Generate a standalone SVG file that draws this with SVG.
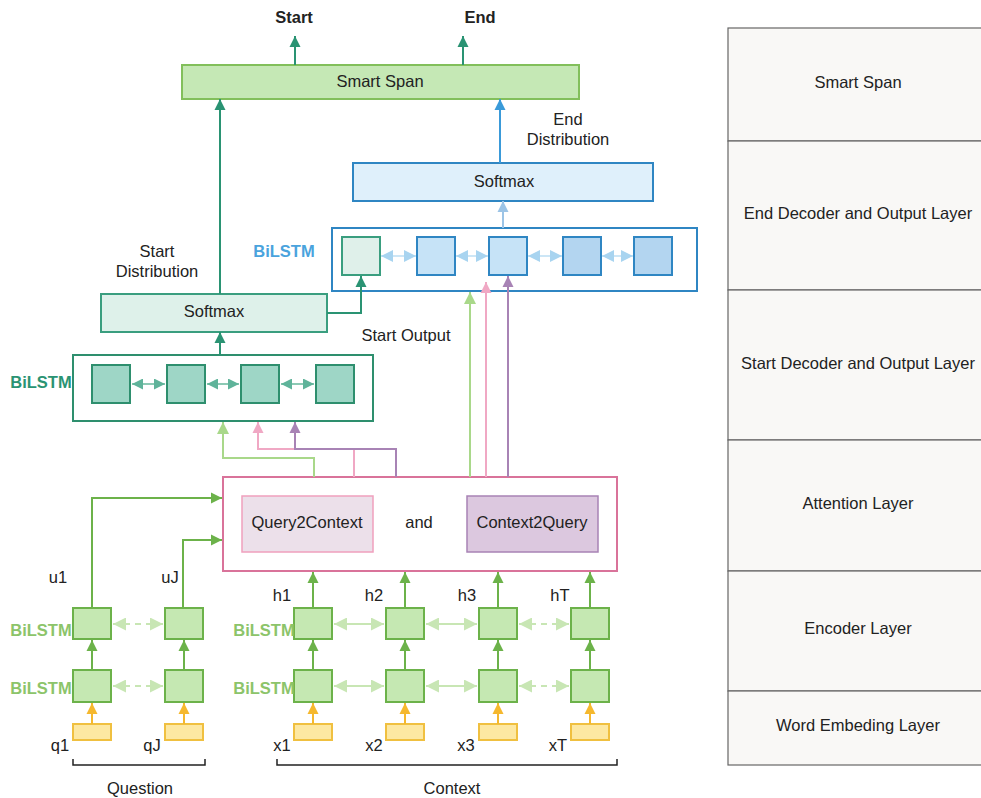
<svg xmlns="http://www.w3.org/2000/svg" width="981" height="798" viewBox="0 0 981 798">
<style>
text{font-family:"Liberation Sans",Arial,sans-serif;font-size:16.5px;fill:#222;text-anchor:middle;dominant-baseline:central}
.b{font-weight:bold}
.lbl-green{fill:#8cc46a;font-weight:bold}
.lbl-teal{fill:#2a9373;font-weight:bold}
.lbl-blue{fill:#4aa3dd;font-weight:bold}
.gsq{fill:#c5e8b2;stroke:#6cb24a;stroke-width:2}
.ysq{fill:#fde8a2;stroke:#f0c040;stroke-width:2}
.tsq{fill:#9ed6c6;stroke:#2e8f6e;stroke-width:2}
.bsq{fill:#c6e3f7;stroke:#2f86c3;stroke-width:2}
.bsq2{fill:#b3d5f0;stroke:#2f86c3;stroke-width:2}
.ln{fill:none;stroke-width:2}
.row{fill:#f9f8f6;stroke:#666;stroke-width:1.2}
</style>
<defs>
<marker id="a-teal" viewBox="0 0 10 10" refX="10" refY="5" markerWidth="11" markerHeight="12" markerUnits="userSpaceOnUse" orient="auto-start-reverse"><path d="M0,0 L10,5 L0,10 z" fill="#2a9373"/></marker>
<marker id="a-blue" viewBox="0 0 10 10" refX="10" refY="5" markerWidth="11" markerHeight="12" markerUnits="userSpaceOnUse" orient="auto-start-reverse"><path d="M0,0 L10,5 L0,10 z" fill="#3a9ad9"/></marker>
<marker id="a-sky" viewBox="0 0 10 10" refX="10" refY="5" markerWidth="11" markerHeight="12" markerUnits="userSpaceOnUse" orient="auto-start-reverse"><path d="M0,0 L10,5 L0,10 z" fill="#9cc4e6"/></marker>
<marker id="a-green" viewBox="0 0 10 10" refX="10" refY="5" markerWidth="11" markerHeight="12" markerUnits="userSpaceOnUse" orient="auto-start-reverse"><path d="M0,0 L10,5 L0,10 z" fill="#6cb24a"/></marker>
<marker id="a-yellow" viewBox="0 0 10 10" refX="10" refY="5" markerWidth="11" markerHeight="12" markerUnits="userSpaceOnUse" orient="auto-start-reverse"><path d="M0,0 L10,5 L0,10 z" fill="#f5b82e"/></marker>
<marker id="a-lgreen" viewBox="0 0 10 10" refX="10" refY="5" markerWidth="12" markerHeight="12" markerUnits="userSpaceOnUse" orient="auto-start-reverse"><path d="M0,0 L10,5 L0,10 z" fill="#a9d88a"/></marker>
<marker id="a-pink" viewBox="0 0 10 10" refX="10" refY="5" markerWidth="11" markerHeight="12" markerUnits="userSpaceOnUse" orient="auto-start-reverse"><path d="M0,0 L10,5 L0,10 z" fill="#f0a8c4"/></marker>
<marker id="a-purple" viewBox="0 0 10 10" refX="10" refY="5" markerWidth="11" markerHeight="12" markerUnits="userSpaceOnUse" orient="auto-start-reverse"><path d="M0,0 L10,5 L0,10 z" fill="#a883b5"/></marker>
<marker id="d-lg" viewBox="0 0 10 10" refX="10" refY="5" markerWidth="14" markerHeight="13" markerUnits="userSpaceOnUse" orient="auto-start-reverse"><path d="M0,0 L10,5 L0,10 z" fill="#c8e6b4"/></marker>
<marker id="d-teal" viewBox="0 0 10 10" refX="10" refY="5" markerWidth="12" markerHeight="11" markerUnits="userSpaceOnUse" orient="auto-start-reverse"><path d="M0,0 L10,5 L0,10 z" fill="#5fb39a"/></marker>
<marker id="d-sky" viewBox="0 0 10 10" refX="10" refY="5" markerWidth="14" markerHeight="12" markerUnits="userSpaceOnUse" orient="auto-start-reverse"><path d="M0,0 L10,5 L0,10 z" fill="#a8d4f0"/></marker>
</defs>

<!-- Right layer table -->
<g id="layer-table">
<rect class="row" x="728" y="28" width="262" height="113"/>
<rect class="row" x="728" y="141" width="262" height="149"/>
<rect class="row" x="728" y="290" width="262" height="150"/>
<rect class="row" x="728" y="440" width="262" height="131"/>
<rect class="row" x="728" y="571" width="262" height="120"/>
<rect class="row" x="728" y="691" width="262" height="74"/>
<text x="858" y="82">Smart Span</text>
<text x="858" y="213">End Decoder and Output Layer</text>
<text x="858" y="363">Start Decoder and Output Layer</text>
<text x="858" y="503">Attention Layer</text>
<text x="858" y="628">Encoder Layer</text>
<text x="858" y="725">Word Embeding Layer</text>
</g>

<!-- Smart Span -->
<g id="smart-span">
<rect x="182" y="65" width="397" height="34" fill="#c5e8b5" stroke="#82bf5b" stroke-width="2"/>
<text x="380" y="81">Smart Span</text>
</g>
<g id="out-labels">
<text class="b" x="294" y="17">Start</text>
<text class="b" x="480" y="17">End</text>
</g>

<!-- End decoder -->
<g id="end-softmax">
<rect x="353" y="163" width="300" height="38" fill="#dff0fb" stroke="#2f86c3" stroke-width="2"/>
<text x="504" y="181">Softmax</text>
</g>
<g id="end-bilstm">
<rect x="332" y="228" width="365" height="63" fill="#fff" stroke="#2f86c3" stroke-width="2"/>
<rect x="342" y="237" width="38" height="38" fill="#dff0ea" stroke="#3a9e7f" stroke-width="2"/>
<rect class="bsq" x="417" y="237" width="38" height="38"/>
<rect class="bsq" x="489" y="237" width="38" height="38"/>
<rect class="bsq2" x="563" y="237" width="38" height="38"/>
<rect class="bsq2" x="634" y="237" width="38" height="38"/>
<text class="lbl-blue" x="284" y="251">BiLSTM</text>
</g>
<g id="end-dist-label">
<text x="568" y="119">End</text>
<text x="568" y="139">Distribution</text>
</g>

<!-- Start decoder -->
<g id="start-softmax">
<rect x="101" y="294" width="226" height="38" fill="#def1ea" stroke="#3a9e7f" stroke-width="2"/>
<text x="214" y="311">Softmax</text>
</g>
<g id="start-bilstm">
<rect x="73" y="355" width="300" height="66" fill="#fff" stroke="#2e8f6e" stroke-width="2"/>
<rect class="tsq" x="92" y="365" width="38" height="38"/>
<rect class="tsq" x="167" y="365" width="38" height="38"/>
<rect class="tsq" x="241" y="365" width="38" height="38"/>
<rect class="tsq" x="316" y="365" width="38" height="38"/>
<text class="lbl-teal" x="41" y="382">BiLSTM</text>
</g>
<g id="start-labels">
<text x="157" y="251">Start</text>
<text x="157" y="271">Distribution</text>
<text x="406" y="335">Start Output</text>
</g>

<!-- Attention -->
<g id="attention">
<rect x="223" y="477" width="394" height="94" fill="#fff" stroke="#d9739a" stroke-width="2"/>
<rect x="242" y="496" width="131" height="56" fill="#ece0ea" stroke="#f0a0bd" stroke-width="1.5"/>
<text x="307" y="522">Query2Context</text>
<text x="419" y="522">and</text>
<rect x="467" y="496" width="131" height="56" fill="#dcc8df" stroke="#a883b5" stroke-width="1.5"/>
<text x="532" y="522">Context2Query</text>
</g>

<!-- Question encoder -->
<g id="question">
<rect class="gsq" x="73" y="608" width="38" height="31"/>
<rect class="gsq" x="165" y="608" width="38" height="31"/>
<rect class="gsq" x="73" y="670" width="38" height="32"/>
<rect class="gsq" x="165" y="670" width="38" height="32"/>
<rect class="ysq" x="73" y="724" width="38" height="16"/>
<rect class="ysq" x="165" y="724" width="38" height="16"/>
<text class="lbl-green" x="41" y="630">BiLSTM</text>
<text class="lbl-green" x="41" y="688">BiLSTM</text>
<text x="58" y="577">u1</text>
<text x="170" y="577">uJ</text>
<text x="60" y="745">q1</text>
<text x="152" y="745">qJ</text>
<path d="M73,759 V765 H205 V759" fill="none" stroke="#222" stroke-width="1.5"/>
<text x="140" y="788">Question</text>
</g>

<!-- Context encoder -->
<g id="context">
<rect class="gsq" x="294" y="608" width="38" height="31"/>
<rect class="gsq" x="386" y="608" width="38" height="31"/>
<rect class="gsq" x="479" y="608" width="38" height="31"/>
<rect class="gsq" x="571" y="608" width="38" height="31"/>
<rect class="gsq" x="294" y="670" width="38" height="32"/>
<rect class="gsq" x="386" y="670" width="38" height="32"/>
<rect class="gsq" x="479" y="670" width="38" height="32"/>
<rect class="gsq" x="571" y="670" width="38" height="32"/>
<rect class="ysq" x="294" y="724" width="38" height="16"/>
<rect class="ysq" x="386" y="724" width="38" height="16"/>
<rect class="ysq" x="479" y="724" width="38" height="16"/>
<rect class="ysq" x="571" y="724" width="38" height="16"/>
<text class="lbl-green" x="264" y="630">BiLSTM</text>
<text class="lbl-green" x="264" y="688">BiLSTM</text>
<text x="282" y="595">h1</text>
<text x="374" y="595">h2</text>
<text x="467" y="595">h3</text>
<text x="560" y="595">hT</text>
<text x="282" y="745">x1</text>
<text x="374" y="745">x2</text>
<text x="466" y="745">x3</text>
<text x="558" y="745">xT</text>
<path d="M277,759 V765 H617 V759" fill="none" stroke="#222" stroke-width="1.5"/>
<text x="452" y="788">Context</text>
</g>

<!-- Connectors -->
<g id="connectors">
<line class="ln" x1="295" y1="65" x2="295" y2="36" stroke="#2a9373" marker-end="url(#a-teal)"/>
<line class="ln" x1="463" y1="65" x2="463" y2="36" stroke="#2a9373" marker-end="url(#a-teal)"/>
<line class="ln" x1="220" y1="294" x2="220" y2="99" stroke="#2a9373" marker-end="url(#a-teal)"/>
<line class="ln" x1="500" y1="163" x2="500" y2="99" stroke="#3a9ad9" marker-end="url(#a-blue)"/>
<line class="ln" x1="503" y1="228" x2="503" y2="201" stroke="#9cc4e6" marker-end="url(#a-sky)"/>
<line class="ln" x1="220" y1="355" x2="220" y2="332" stroke="#2a9373" marker-end="url(#a-teal)"/>
<path class="ln" d="M327,313 H361 V276" stroke="#2a9373" marker-end="url(#a-teal)"/>
<line class="ln" x1="381" y1="256" x2="416" y2="256" stroke="#cce6f6" stroke-width="3" marker-start="url(#d-sky)" marker-end="url(#d-sky)"/>
<line class="ln" x1="456" y1="256" x2="488" y2="256" stroke="#cce6f6" stroke-width="3" marker-start="url(#d-sky)" marker-end="url(#d-sky)"/>
<line class="ln" x1="528" y1="256" x2="562" y2="256" stroke="#cce6f6" stroke-width="3" marker-start="url(#d-sky)" marker-end="url(#d-sky)"/>
<line class="ln" x1="602" y1="256" x2="633" y2="256" stroke="#cce6f6" stroke-width="3" marker-start="url(#d-sky)" marker-end="url(#d-sky)"/>
<line class="ln" x1="132" y1="384" x2="165" y2="384" stroke="#8cc9b4" stroke-width="3" marker-start="url(#d-teal)" marker-end="url(#d-teal)"/>
<line class="ln" x1="207" y1="384" x2="239" y2="384" stroke="#8cc9b4" stroke-width="3" marker-start="url(#d-teal)" marker-end="url(#d-teal)"/>
<line class="ln" x1="281" y1="384" x2="314" y2="384" stroke="#8cc9b4" stroke-width="3" marker-start="url(#d-teal)" marker-end="url(#d-teal)"/>
<path class="ln" d="M314,477 V458 H223 V422" stroke="#a9d88a" marker-end="url(#a-lgreen)"/>
<path class="ln" d="M354,477 V449 H258 V422" stroke="#f0a8c4" marker-end="url(#a-pink)"/>
<path class="ln" d="M396,477 V449 H295 V422" stroke="#a883b5" marker-end="url(#a-purple)"/>
<line class="ln" x1="470" y1="477" x2="470" y2="292" stroke="#a9d88a" marker-end="url(#a-lgreen)"/>
<line class="ln" x1="486" y1="477" x2="486" y2="282" stroke="#f0a8c4" marker-end="url(#a-pink)"/>
<line class="ln" x1="508" y1="477" x2="508" y2="276" stroke="#a883b5" marker-end="url(#a-purple)"/>
<path class="ln" d="M92,608 V498 H222" stroke="#6cb24a" marker-end="url(#a-green)"/>
<path class="ln" d="M183,608 V540 H222" stroke="#6cb24a" marker-end="url(#a-green)"/>
<line class="ln" x1="313" y1="608" x2="313" y2="572" stroke="#6cb24a" marker-end="url(#a-green)"/>
<line class="ln" x1="405" y1="608" x2="405" y2="572" stroke="#6cb24a" marker-end="url(#a-green)"/>
<line class="ln" x1="498" y1="608" x2="498" y2="572" stroke="#6cb24a" marker-end="url(#a-green)"/>
<line class="ln" x1="590" y1="608" x2="590" y2="572" stroke="#6cb24a" marker-end="url(#a-green)"/>
<line class="ln" x1="92" y1="670" x2="92" y2="640" stroke="#6cb24a" marker-end="url(#a-green)"/>
<line class="ln" x1="184" y1="670" x2="184" y2="640" stroke="#6cb24a" marker-end="url(#a-green)"/>
<line class="ln" x1="92" y1="724" x2="92" y2="703" stroke="#f5b82e" marker-end="url(#a-yellow)"/>
<line class="ln" x1="184" y1="724" x2="184" y2="703" stroke="#f5b82e" marker-end="url(#a-yellow)"/>
<line class="ln" x1="313" y1="670" x2="313" y2="640" stroke="#6cb24a" marker-end="url(#a-green)"/>
<line class="ln" x1="405" y1="670" x2="405" y2="640" stroke="#6cb24a" marker-end="url(#a-green)"/>
<line class="ln" x1="498" y1="670" x2="498" y2="640" stroke="#6cb24a" marker-end="url(#a-green)"/>
<line class="ln" x1="590" y1="670" x2="590" y2="640" stroke="#6cb24a" marker-end="url(#a-green)"/>
<line class="ln" x1="313" y1="724" x2="313" y2="703" stroke="#f5b82e" marker-end="url(#a-yellow)"/>
<line class="ln" x1="405" y1="724" x2="405" y2="703" stroke="#f5b82e" marker-end="url(#a-yellow)"/>
<line class="ln" x1="498" y1="724" x2="498" y2="703" stroke="#f5b82e" marker-end="url(#a-yellow)"/>
<line class="ln" x1="590" y1="724" x2="590" y2="703" stroke="#f5b82e" marker-end="url(#a-yellow)"/>
<line class="ln" x1="113" y1="624" x2="163" y2="624" stroke="#c8e6b4" stroke-width="3" stroke-dasharray="6 5" marker-start="url(#d-lg)" marker-end="url(#d-lg)"/>
<line class="ln" x1="113" y1="686" x2="163" y2="686" stroke="#c8e6b4" stroke-width="3" stroke-dasharray="6 5" marker-start="url(#d-lg)" marker-end="url(#d-lg)"/>
<line class="ln" x1="334" y1="624" x2="384" y2="624" stroke="#c8e6b4" stroke-width="3" marker-start="url(#d-lg)" marker-end="url(#d-lg)"/>
<line class="ln" x1="426" y1="624" x2="477" y2="624" stroke="#c8e6b4" stroke-width="3" marker-start="url(#d-lg)" marker-end="url(#d-lg)"/>
<line class="ln" x1="519" y1="624" x2="569" y2="624" stroke="#c8e6b4" stroke-width="3" stroke-dasharray="6 5" marker-start="url(#d-lg)" marker-end="url(#d-lg)"/>
<line class="ln" x1="334" y1="686" x2="384" y2="686" stroke="#c8e6b4" stroke-width="3" marker-start="url(#d-lg)" marker-end="url(#d-lg)"/>
<line class="ln" x1="426" y1="686" x2="477" y2="686" stroke="#c8e6b4" stroke-width="3" marker-start="url(#d-lg)" marker-end="url(#d-lg)"/>
<line class="ln" x1="519" y1="686" x2="569" y2="686" stroke="#c8e6b4" stroke-width="3" stroke-dasharray="6 5" marker-start="url(#d-lg)" marker-end="url(#d-lg)"/>
</g>
</svg>
